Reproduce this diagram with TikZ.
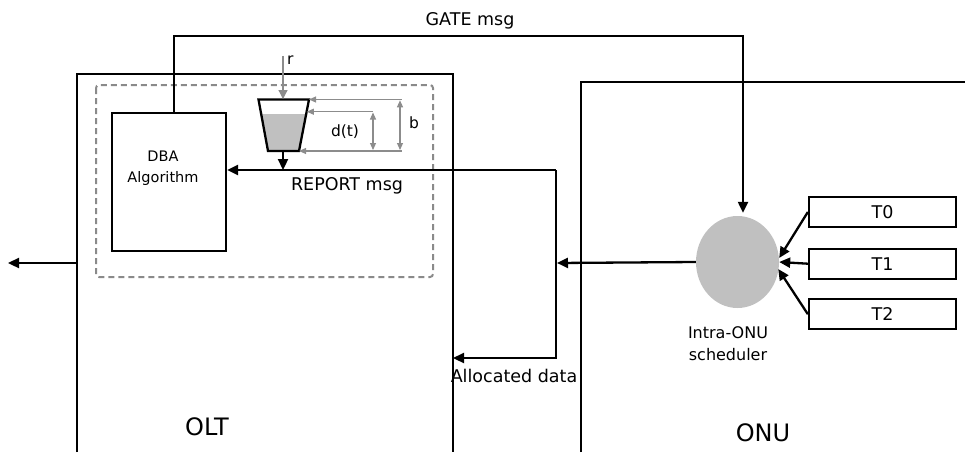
\documentclass[tikz,border=0pt]{standalone}
\usepackage{fontspec}
\setmainfont{DejaVu Sans}
\usetikzlibrary{arrows.meta,shapes.geometric}
\definecolor{dimgray}{HTML}{8C8C8C}
\definecolor{dashgray}{HTML}{8A8A8A}
\definecolor{fillgray}{HTML}{C0C0C0}
\begin{document}
\begin{tikzpicture}[x=1pt,y=-1pt,line join=miter,
  blk/.style={line width=2.3pt,black},
  tipb/.style={-{Triangle[length=11pt,width=10pt]}},
  dim/.style={line width=1.1pt,draw=dimgray},
  diml/.style={-{Triangle[length=7pt,width=6pt]}},
  dimb/.style={{Triangle[length=7pt,width=6pt]}-{Triangle[length=7pt,width=6pt]}},
  txt/.style={font=\fontsize{17.5}{21}\selectfont,inner sep=0pt},
  small/.style={font=\fontsize{15.5}{18}\selectfont,inner sep=0pt},
  big/.style={font=\fontsize{24}{28}\selectfont,inner sep=0pt},
  tbox/.style={draw,line width=2.3pt,minimum width=147pt,minimum height=30pt,inner sep=0pt,font=\fontsize{17.5}{21}\selectfont}]
\useasboundingbox (0,0) rectangle (965,452);

% OLT and ONU frames
\coordinate (oltbl) at (77,452);
\coordinate (olttl) at (77,74);
\coordinate (olttr) at (453,74);
\coordinate (oltbr) at (453,452);
\draw[blk] (oltbl) -- (olttl) -- (olttr) -- (oltbr);
\coordinate (onubl) at (581,452);
\coordinate (onutl) at (581,82);
\coordinate (onutr) at (965,82);
\draw[blk] (onubl) -- (onutl) -- (onutr);
\node[big] (oltlabel) at (207,427) {OLT};
\node[big] (onulabel) at (763,433) {ONU};

% dashed box
\draw[line width=2pt,draw=dashgray,dash pattern=on 6pt off 4pt,rounded corners=3pt] (96,85) rectangle (433,277);

% DBA
\node[draw,line width=2.3pt,minimum width=114pt,minimum height=138pt,inner sep=0pt] (dba) at (169,182) {};
\node[font=\fontsize{14.5}{21}\selectfont,align=center,inner sep=0pt] (dbatext) at (163,168) {DBA\\Algorithm};

% bucket
\coordinate (btl) at (258.5,99.5);
\coordinate (btr) at (309,99.5);
\coordinate (bbr) at (299,151);
\coordinate (bbl) at (268,151);
\fill[fillgray] (261.2,114) -- (306.2,114) -- (bbr) -- (bbl) -- cycle;
\draw[blk] (btl) -- (btr) -- (bbr) -- (bbl) -- cycle;
\coordinate (rtop) at (283,56);
\coordinate (rbot) at (283,99);
\draw[line width=1.3pt,draw=dimgray,-{Triangle[length=9pt,width=9pt]},color=dimgray] (rtop) -- (rbot);
\node[small,anchor=west] (rlabel) at (287,60) {r};
\coordinate (bout) at (283,151);

% dimension lines
\coordinate (d1r) at (401.7,99.5);
\coordinate (d2r) at (373,111.7);
\coordinate (d2l) at (306.8,111.7);
\coordinate (d3r) at (401.7,151);
\draw[dim,diml,color=dimgray] (d1r) -- (btr);
\draw[dim,diml,color=dimgray] (d2r) -- (d2l);
\draw[dim,diml,color=dimgray] (d3r) -- (bbr);
\draw[dim,dimb,color=dimgray] (373,112.5) -- (373,150);
\draw[dim,dimb,color=dimgray] (400,100.3) -- (400,150);
\node[small] (dtlabel) at (345,132) {d(t)};
\node[small] (blabel) at (414,123) {b};

% REPORT
\coordinate (rp) at (556,170);
\coordinate (ad) at (556,358);
\draw[blk,tipb] (bout) -- (bout |- rp);
\draw[blk,tipb] (rp) -- (rp -| dba.east);
\node[txt] (reportlabel) at (347,186) {REPORT msg};
\draw[blk,tipb] (rp) -- (ad) -- (ad -| oltbr);
\node[txt] (allocated) at (514,376) {Allocated data};

% scheduler
\node[ellipse,fill=fillgray,minimum width=83pt,minimum height=92pt,inner sep=0pt] (sched) at (737.5,262) {};
\node[font=\fontsize{16}{22}\selectfont,align=center,inner sep=0pt] (schedlabel) at (728,344) {Intra-ONU\\scheduler};
\draw[blk,tipb] ([xshift=5pt]dba.north) |- (743,36) -- ([xshift=5.5pt,yshift=3pt]sched.north);
\node[txt] (gatelabel) at (470,21) {GATE msg};
\coordinate (bracketmid) at (557,263);
\draw[blk,tipb] (sched.west) -- (bracketmid);

% out of OLT
\coordinate (oltout) at (77,263);
\coordinate (leftend) at (8,263);
\draw[blk,tipb] (oltout) -- (leftend);

% traffic classes
\node[tbox] (t0) at (882.5,212) {T0};
\node[tbox] (t1) at (882.5,263.7) {T1};
\node[tbox] (t2) at (882.5,314.2) {T2};
\draw[blk,tipb] (t0.west) -- ([yshift=4pt]sched.east);
\draw[blk,tipb] (t1.west) -- (sched.east);
\draw[blk,tipb] (t2.west) -- ([xshift=-1pt,yshift=-7pt]sched.east);
\end{tikzpicture}
\end{document}
